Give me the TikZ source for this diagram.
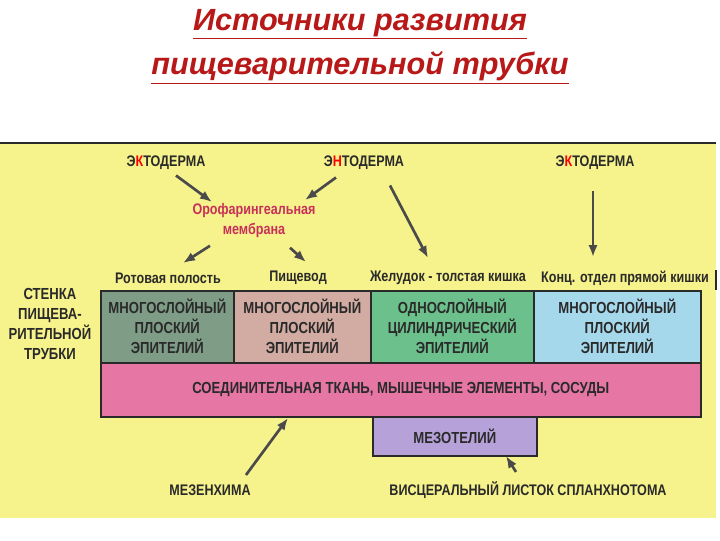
\documentclass[tikz,border=0pt]{standalone}
\usepackage{fontspec}
\setmainfont{Liberation Sans}
\newfontfamily\narrow[FakeStretch=0.82]{Liberation Sans}
\usetikzlibrary{arrows.meta}
\definecolor{bgY}{HTML}{F6F28C}
\definecolor{cA}{HTML}{7E9C86}
\definecolor{cB}{HTML}{D2ABA2}
\definecolor{cC}{HTML}{6CC08C}
\definecolor{cD}{HTML}{A6D8EC}
\definecolor{cPink}{HTML}{E676A4}
\definecolor{cMes}{HTML}{B6A2D8}
\definecolor{ttl}{HTML}{B81818}
\definecolor{ink}{HTML}{2A2A2A}
\definecolor{mag}{HTML}{C8305A}
\tikzset{
  lbl/.style={font=\narrow\fontsize{11.5}{12}\selectfont\bfseries, text=ink, inner sep=1pt, align=center},
  box/.style={draw=ink, line width=1.2pt, font=\narrow\fontsize{12}{15}\selectfont\bfseries, text=ink, align=center, inner sep=0pt},
  arr/.style={draw=ink!85, line width=2pt, -{Latex[length=9pt,width=7pt]}}
}
\begin{document}
\begin{tikzpicture}[x=0.75pt,y=-0.75pt]
\useasboundingbox (0,0) rectangle (720,540);
\fill[white] (0,0) rectangle (720,540);
\fill[bgY] (0,143) rectangle (716,518);
\draw[ink,line width=1pt] (0,143) -- (716,143);
\node[font=\fontsize{23}{26}\selectfont\bfseries\itshape, text=ttl] (t1) at (360,24) {\underline{Источники развития}};
\node[font=\fontsize{23}{26}\selectfont\bfseries\itshape, text=ttl] (t2) at (360,68) {\underline{пищеварительной трубки}};
% top labels
\node[lbl] (ek1) at (166,163) {Э\textcolor{red}{К}ТОДЕРМА};
\node[lbl] (en) at (364,163) {Э\textcolor{red}{Н}ТОДЕРМА};
\node[lbl] (ek2) at (595,163) {Э\textcolor{red}{К}ТОДЕРМА};
\node[lbl, text=mag] (mem) at (254,221) {Орофарингеальная\\[3pt]мембрана};
\node[lbl] (l1) at (168,278) {Ротовая полость};
\node[lbl] (l2) at (298,278) {Пищевод};
\node[lbl] (l3) at (448,278) {Желудок - толстая кишка};
\node[lbl] (l4) at (625,278) {Конц. отдел прямой кишки};
% boxes
\node[box, fill=cA, minimum width=133*0.75pt, minimum height=72*0.75pt, anchor=north west] (b1) at (100,290) {МНОГОСЛОЙНЫЙ\\ПЛОСКИЙ\\ЭПИТЕЛИЙ};
\node[box, fill=cB, minimum width=137*0.75pt, minimum height=72*0.75pt, anchor=north west] (b2) at (233,290) {МНОГОСЛОЙНЫЙ\\ПЛОСКИЙ\\ЭПИТЕЛИЙ};
\node[box, fill=cC, minimum width=163*0.75pt, minimum height=72*0.75pt, anchor=north west] (b3) at (370,290) {ОДНОСЛОЙНЫЙ\\ЦИЛИНДРИЧЕСКИЙ\\ЭПИТЕЛИЙ};
\node[box, fill=cD, minimum width=167*0.75pt, minimum height=72*0.75pt, anchor=north west] (b4) at (533,290) {МНОГОСЛОЙНЫЙ\\ПЛОСКИЙ\\ЭПИТЕЛИЙ};
\node[box, fill=cPink, minimum width=600*0.75pt, minimum height=54*0.75pt, anchor=north west] (band) at (100,362) {СОЕДИНИТЕЛЬНАЯ ТКАНЬ, МЫШЕЧНЫЕ ЭЛЕМЕНТЫ, СОСУДЫ};
\node[box, fill=cMes, minimum width=164*0.75pt, minimum height=39*0.75pt, anchor=north west] (mes) at (372,416) {МЕЗОТЕЛИЙ};
\node[lbl, font=\narrow\fontsize{12}{15}\selectfont\bfseries] (wall) at (50,324) {СТЕНКА\\ПИЩЕВА-\\РИТЕЛЬНОЙ\\ТРУБКИ};
\node[lbl] (mz) at (210,490) {МЕЗЕНХИМА};
\node[lbl] (vl) at (528,490) {ВИСЦЕРАЛЬНЫЙ ЛИСТОК СПЛАНХНОТОМА};
% arrows
\coordinate (a1) at (212,202); \coordinate (a2) at (305,200);
\coordinate (a3) at (428,258); \coordinate (a4) at (183,263);
\coordinate (a5) at (306,262); \coordinate (a6) at (593,257);
\coordinate (a7) at (288,418); \coordinate (a8) at (506,456);
\draw[arr] (ek1.south) ++(10,4) -- (a1);
\draw[arr] (en.south) ++(-28,6) -- (a2);
\draw[arr] (en.south) ++(26,14) -- (a3);
\draw[arr] (mem.south) ++(-44,6) -- (a4);
\draw[arr] (mem.south) ++(36,8) -- (a5);
\draw[arr] (ek2.south) ++(-2,20) -- (a6);
\draw[arr] (mz.north) ++(36,-8) -- (a7);
\draw[arr] (vl.north) ++(-12,-8) -- (a8);
\draw[ink,line width=1.2pt] (716,270) -- (716,290);
\end{tikzpicture}
\end{document}
